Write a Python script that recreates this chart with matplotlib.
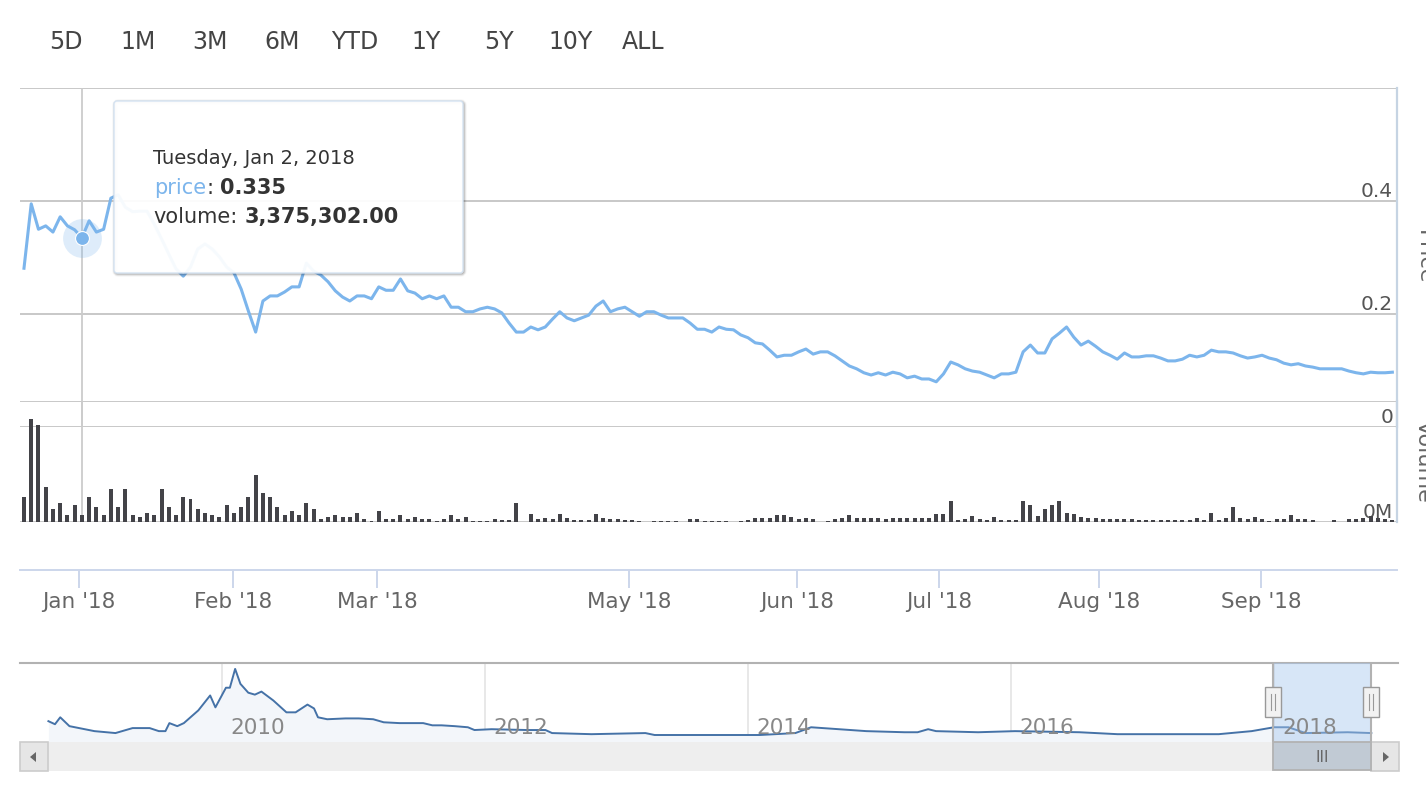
import numpy as np
import matplotlib
import matplotlib.pyplot as plt
from matplotlib.patches import Rectangle, FancyBboxPatch, Polygon
from matplotlib.transforms import offset_copy
plt.switch_backend('agg')

matplotlib.rcParams['font.family'] = 'DejaVu Sans'

W, H = 1426, 792

range_buttons = ['5D', '1M', '3M', '6M', 'YTD', '1Y', '5Y', '10Y', 'ALL']

# daily close, one value per trading day (mid Dec 2017 .. end Sep 2018)
price = [
    0.281, 0.395, 0.350, 0.356, 0.345, 0.372, 0.356, 0.349, 0.335, 0.365,
    0.345, 0.350, 0.405, 0.411, 0.389, 0.381, 0.382, 0.382, 0.359, 0.333,
    0.306, 0.280, 0.267, 0.283, 0.315, 0.324, 0.315, 0.301, 0.283, 0.273,
    0.244, 0.205, 0.168, 0.223, 0.232, 0.232, 0.239, 0.248, 0.248, 0.290,
    0.276, 0.269, 0.257, 0.241, 0.230, 0.223, 0.232, 0.232, 0.227, 0.248,
    0.242, 0.242, 0.262, 0.241, 0.237, 0.227, 0.232, 0.227, 0.232, 0.212,
    0.212, 0.204, 0.204, 0.209, 0.212, 0.209, 0.202, 0.184, 0.168, 0.168,
    0.177, 0.172, 0.177, 0.191, 0.204, 0.193, 0.188, 0.193, 0.198, 0.214,
    0.223, 0.204, 0.209, 0.212, 0.204, 0.196, 0.204, 0.204, 0.198, 0.193,
    0.193, 0.193, 0.184, 0.173, 0.173, 0.168, 0.177, 0.173, 0.172, 0.163,
    0.158, 0.149, 0.147, 0.136, 0.124, 0.127, 0.127, 0.133, 0.138, 0.129,
    0.133, 0.133, 0.126, 0.117, 0.108, 0.103, 0.096, 0.092, 0.096, 0.092,
    0.097, 0.094, 0.087, 0.090, 0.085, 0.085, 0.080, 0.094, 0.115, 0.110,
    0.103, 0.099, 0.097, 0.092, 0.087, 0.094, 0.094, 0.097, 0.133, 0.145,
    0.131, 0.131, 0.156, 0.166, 0.177, 0.159, 0.145, 0.152, 0.143, 0.133,
    0.127, 0.120, 0.131, 0.124, 0.124, 0.126, 0.126, 0.122, 0.117, 0.117,
    0.120, 0.127, 0.124, 0.127, 0.136, 0.133, 0.133, 0.131, 0.126, 0.122,
    0.124, 0.127, 0.122, 0.119, 0.113, 0.110, 0.112, 0.108, 0.106, 0.103,
    0.103, 0.103, 0.103, 0.099, 0.096, 0.094, 0.097, 0.096, 0.096, 0.097,
]

# daily volume in millions
volume_m = [
    12.4, 51.1, 48.1, 17.4, 6.4, 9.4, 3.5, 8.4, 3.375302, 12.4,
    7.4, 3.5, 16.4, 7.4, 16.4, 3.5, 2.5, 4.5, 3.5, 16.4,
    7.4, 3.5, 12.4, 11.4, 6.4, 4.5, 3.5, 2.5, 8.4, 4.5,
    7.4, 12.4, 23.3, 14.4, 12.4, 7.4, 3.5, 5.5, 3.5, 9.4,
    6.4, 1.5, 2.5, 3.5, 2.5, 2.5, 4.5, 1.5, 0.5, 5.5,
    1.5, 1.5, 3.5, 1.5, 2.5, 1.5, 1.5, 0.5, 1.5, 3.5,
    1.5, 2.5, 0.5, 0.5, 0.5, 1.5, 1.0, 1.0, 9.4, 0.0,
    4.0, 1.5, 2.0, 1.5, 4.0, 2.0, 1.0, 1.0, 1.0, 4.0,
    2.0, 1.5, 1.5, 1.0, 1.0, 0.5, 0.0, 0.5, 0.5, 0.5,
    0.5, 0.0, 1.5, 1.5, 0.5, 0.5, 0.5, 0.5, 0.0, 0.5,
    1.0, 2.0, 2.0, 2.0, 3.5, 3.5, 2.5, 1.5, 2.0, 1.5,
    0.0, 0.5, 1.5, 2.0, 3.5, 2.0, 2.0, 2.0, 2.0, 1.5,
    2.0, 2.0, 2.0, 2.0, 2.0, 2.0, 4.0, 4.0, 10.4, 1.0,
    1.5, 3.0, 1.5, 1.0, 2.5, 1.0, 1.0, 1.0, 10.4, 8.4,
    3.0, 6.4, 8.4, 10.4, 4.5, 4.0, 2.5, 2.0, 2.0, 1.5,
    1.5, 1.5, 1.5, 1.5, 1.0, 1.0, 1.0, 1.0, 1.0, 1.0,
    1.0, 1.0, 2.0, 1.0, 4.5, 1.0, 2.0, 7.4, 2.0, 1.5,
    2.5, 1.5, 0.5, 1.5, 1.5, 3.5, 1.5, 1.5, 1.0, 0.0,
    0.0, 1.0, 0.0, 1.5, 1.5, 2.0, 3.0, 2.0, 1.5, 1.0,
]

# month starts on the ordinal (trading day) axis
month_ticks = [7.6, 28.9, 48.8, 83.6, 106.8, 126.4, 148.5, 170.9]
month_labels = ["Jan '18", "Feb '18", "Mar '18", "May '18", "Jun '18",
                "Jul '18", "Aug '18", "Sep '18"]

hover_idx = 8
hover_date = 'Tuesday, Jan 2, 2018'

# long history shown in the navigator
nav_year = [2008.68, 2008.73, 2008.77, 2008.84, 2009.03, 2009.19, 2009.32, 2009.45,
            2009.52, 2009.57, 2009.60, 2009.66, 2009.71, 2009.82, 2009.91, 2009.95,
            2010.03, 2010.06, 2010.10, 2010.14, 2010.20, 2010.25, 2010.30, 2010.39,
            2010.49, 2010.56, 2010.65, 2010.70, 2010.73, 2010.80, 2010.94, 2011.04,
            2011.15, 2011.23, 2011.35, 2011.53, 2011.60, 2011.67, 2011.77, 2011.87,
            2011.92, 2012.05, 2012.32, 2012.46, 2012.51, 2012.81, 2013.22, 2013.29,
            2013.73, 2014.09, 2014.36, 2014.48, 2014.69, 2014.90, 2015.19, 2015.29,
            2015.37, 2015.43, 2015.75, 2016.03, 2016.52, 2016.81, 2017.58, 2017.83,
            2018.00, 2018.11, 2018.24, 2018.56, 2018.74]
nav_price = [0.61, 0.50, 0.75, 0.43, 0.25, 0.18, 0.36, 0.36,
             0.25, 0.25, 0.54, 0.43, 0.54, 1.00, 1.54, 1.11,
             1.82, 1.82, 2.50, 1.96, 1.64, 1.57, 1.68, 1.36,
             0.93, 0.93, 1.21, 1.07, 0.75, 0.68, 0.71, 0.71,
             0.68, 0.57, 0.54, 0.54, 0.46, 0.46, 0.43, 0.39,
             0.29, 0.32, 0.29, 0.29, 0.18, 0.14, 0.18, 0.11,
             0.11, 0.11, 0.18, 0.39, 0.32, 0.25, 0.21, 0.21,
             0.32, 0.25, 0.21, 0.25, 0.21, 0.14, 0.14, 0.25,
             0.39, 0.39, 0.18, 0.21, 0.18]
nav_years = [2010, 2012, 2014, 2016, 2018]
nav_window = (2017.99, 2018.74)

grid_c = '#c4c4c4'
axis_c = '#c6d4e3'
line_c = '#7cb5ec'

fig = plt.figure(figsize=(W / 100, H / 100), dpi=100)


def px_axes(x0, y0, x1, y1, **kw):
    ax = fig.add_axes([x0 / W, 1 - y1 / H, (x1 - x0) / W, (y1 - y0) / H], **kw)
    ax.patch.set_visible(False)
    return ax


def clean(ax):
    for s in ax.spines.values():
        s.set_visible(False)
    ax.set_xticks([])
    ax.set_yticks([])


x = np.arange(len(price))
xlim = (-0.55, len(price) - 0.36)

# price pane
ax_p = px_axes(20, 88, 1397, 427, zorder=1)
clean(ax_p)
ax_p.set_xlim(*xlim)
ax_p.set_ylim(0, 0.6)
for v in [0, 0.2, 0.4, 0.6]:
    ax_p.axhline(v, color=grid_c, lw=1.3, zorder=0)
lab_tr = offset_copy(ax_p.get_yaxis_transform(), fig=fig, x=-4, y=4, units='dots')
for v, s in [(0, '0'), (0.2, '0.2'), (0.4, '0.4')]:
    ax_p.text(1, v, s, transform=lab_tr, ha='right', va='baseline',
              fontsize=14.5, color='#555555')
ax_p.spines['right'].set_visible(True)
ax_p.spines['right'].set_color(axis_c)
ax_p.spines['right'].set_linewidth(1.6)
ax_p.axvline(hover_idx, color='#cccccc', lw=1.3, zorder=1)
ax_p.plot(x, price, color=line_c, lw=2.2, solid_joinstyle='round', zorder=3)
ax_p.scatter([hover_idx], [price[hover_idx]], s=780, color=line_c, alpha=0.25, lw=0, zorder=4)
ax_p.scatter([hover_idx], [price[hover_idx]], s=100, color=line_c, edgecolor='white', lw=0.8, zorder=5)
ax_p.text(1, 0.5, 'Price', transform=offset_copy(ax_p.transAxes, fig=fig, x=17, units='dots'),
          rotation=-90, ha='left', va='center', fontsize=16, color='#666666')

# volume pane
ax_v = px_axes(20, 401, 1397, 522, zorder=1)
clean(ax_v)
ax_v.set_xlim(*xlim)
ax_v.set_ylim(0, 60)
for v in [0, 60]:
    ax_v.axhline(v, color=grid_c, lw=1.3, zorder=0)
vtr = offset_copy(ax_v.get_yaxis_transform(), fig=fig, x=-4, y=4, units='dots')
ax_v.text(1, 0, '0M', transform=vtr, ha='right', va='baseline', fontsize=14.5, color='#555555')
ax_v.spines['right'].set_visible(True)
ax_v.spines['right'].set_color(axis_c)
ax_v.spines['right'].set_linewidth(1.6)
ax_v.axvline(hover_idx, color='#cccccc', lw=1.3, zorder=1)
ax_v.bar(x, volume_m, width=0.55, color='#434348', lw=0, zorder=3)
ax_v.text(1, 0.5, 'Volume', transform=offset_copy(ax_v.transAxes, fig=fig, x=17, units='dots'),
          rotation=-90, ha='left', va='center', fontsize=16, color='#666666')

# date axis
ax_x = px_axes(20, 522, 1397, 570, zorder=1)
for k in ['top', 'left', 'right']:
    ax_x.spines[k].set_visible(False)
ax_x.spines['bottom'].set_color('#ccd6eb')
ax_x.spines['bottom'].set_linewidth(1.4)
ax_x.set_xlim(*xlim)
ax_x.set_yticks([])
ax_x.set_xticks(month_ticks, month_labels)
ax_x.tick_params(axis='x', length=13, width=1.4, color='#ccd6eb', labelcolor='#666666',
                 labelsize=15.5, pad=3)

# navigator
nav_xlim = (2008.464, 2018.943)
nav_ylim = (-0.143, 2.714)
ax_n = px_axes(20, 663, 1398, 742, zorder=1)
clean(ax_n)
ax_n.set_xlim(*nav_xlim)
ax_n.set_ylim(*nav_ylim)
ax_n.spines['top'].set_visible(True)
ax_n.spines['top'].set_color('#b2b2b2')
ax_n.spines['top'].set_linewidth(1.5)
for yr in nav_years:
    ax_n.axvline(yr, color='#e6e6e6', lw=1.3, zorder=0)
ax_n.fill_between(nav_year, nav_price, nav_ylim[0], color='#f3f6fa', lw=0, zorder=1)
ax_n.plot(nav_year, nav_price, color='#4572a7', lw=1.4, zorder=2)
ax_n.axvspan(*nav_window, color='#a8c8ee', alpha=0.45, lw=0, zorder=3)
ytr = offset_copy(ax_n.get_xaxis_transform(), fig=fig, x=8, y=0, units='dots')
for yr in nav_years:
    ax_n.text(yr, 0.1, str(yr), transform=ytr, ha='left', va='baseline',
              fontsize=15.5, color='#888888', zorder=4)
for e in nav_window:
    ax_n.axvline(e, color='#b2b2b2', lw=1.5, zorder=5)

# overlay in pixel coordinates, drawn above every pane
ax_o = fig.add_axes([0, 0, 1, 1], zorder=20)
ax_o.set_xlim(0, W)
ax_o.set_ylim(H, 0)
ax_o.axis('off')

ax_o.add_patch(Rectangle((48, 742), 1323, 29, fc='#eeeeee', lw=0, zorder=1))
ax_o.add_patch(Rectangle((20, 742), 28, 29, fc='#e6e6e6', ec='#cccccc', lw=1.2, zorder=2))
ax_o.add_patch(Polygon([(36, 752), (36, 762), (30, 757)], fc='#666666', lw=0, zorder=3))
ax_o.add_patch(Rectangle((1371, 742), 28, 29, fc='#e6e6e6', ec='#cccccc', lw=1.2, zorder=2))
ax_o.add_patch(Polygon([(1383, 752), (1383, 762), (1389, 757)], fc='#666666', lw=0, zorder=3))

xl = ax_n.transData.transform((nav_window[0], 0))[0]
xr = ax_n.transData.transform((nav_window[1], 0))[0]
ax_o.add_patch(Rectangle((xl, 742), xr - xl, 28, fc='#c1cad4', ec='#b2b2b2', lw=1.3, zorder=4))
ax_o.text((xl + xr) / 2, 757, 'III', ha='center', va='center', fontsize=11, color='#666666', zorder=5)
for e in (xl, xr):
    ax_o.add_patch(Rectangle((e - 8, 687), 16, 30, fc='#f2f2f2', ec='#999999', lw=1.0, zorder=6))
    for dx in (-2, 2):
        ax_o.plot([e + dx, e + dx], [694, 710], color='#999999', lw=0.8, zorder=7)

# range selector buttons
for k, b in enumerate(range_buttons):
    ax_o.text(66 + 72.1 * k, 42, b, ha='center', va='center', fontsize=17, color='#444444')

# tooltip
tx0, ty0, tw, th = 114, 101, 349, 172
for lw_px, a in [(5, 0.05), (3, 0.1), (1, 0.15)]:
    ax_o.add_patch(FancyBboxPatch((tx0 + 1, ty0 + 1), tw, th, boxstyle='round,pad=0,rounding_size=3',
                                  fc='none', ec=(0, 0, 0, a), lw=lw_px * 0.72, zorder=20))
ax_o.add_patch(FancyBboxPatch((tx0, ty0), tw, th, boxstyle='round,pad=0,rounding_size=3',
                              fc='white', alpha=0.94, ec='#d3e2f2', lw=1.0, zorder=21))

renderer = fig.canvas.get_renderer()


def seq_text(x0, y0, parts):
    for s, color, weight, size, gap in parts:
        t = ax_o.text(x0, y0, s, color=color, fontweight=weight, fontsize=size,
                      ha='left', va='baseline', zorder=22)
        x0 += t.get_window_extent(renderer).width + gap


seq_text(153, 164, [(hover_date, '#333333', 'normal', 14, 0)])
seq_text(154, 194, [('price', line_c, 'normal', 15, 0),
                    (':', '#333333', 'normal', 15, 7),
                    ('%.3f' % price[hover_idx], '#333333', 'bold', 15, 0)])
seq_text(153, 223, [('volume:', '#333333', 'normal', 15, 7),
                    ('{:,.2f}'.format(volume_m[hover_idx] * 1e6), '#333333', 'bold', 15, 0)])

plt.savefig('out.png', dpi=100)
